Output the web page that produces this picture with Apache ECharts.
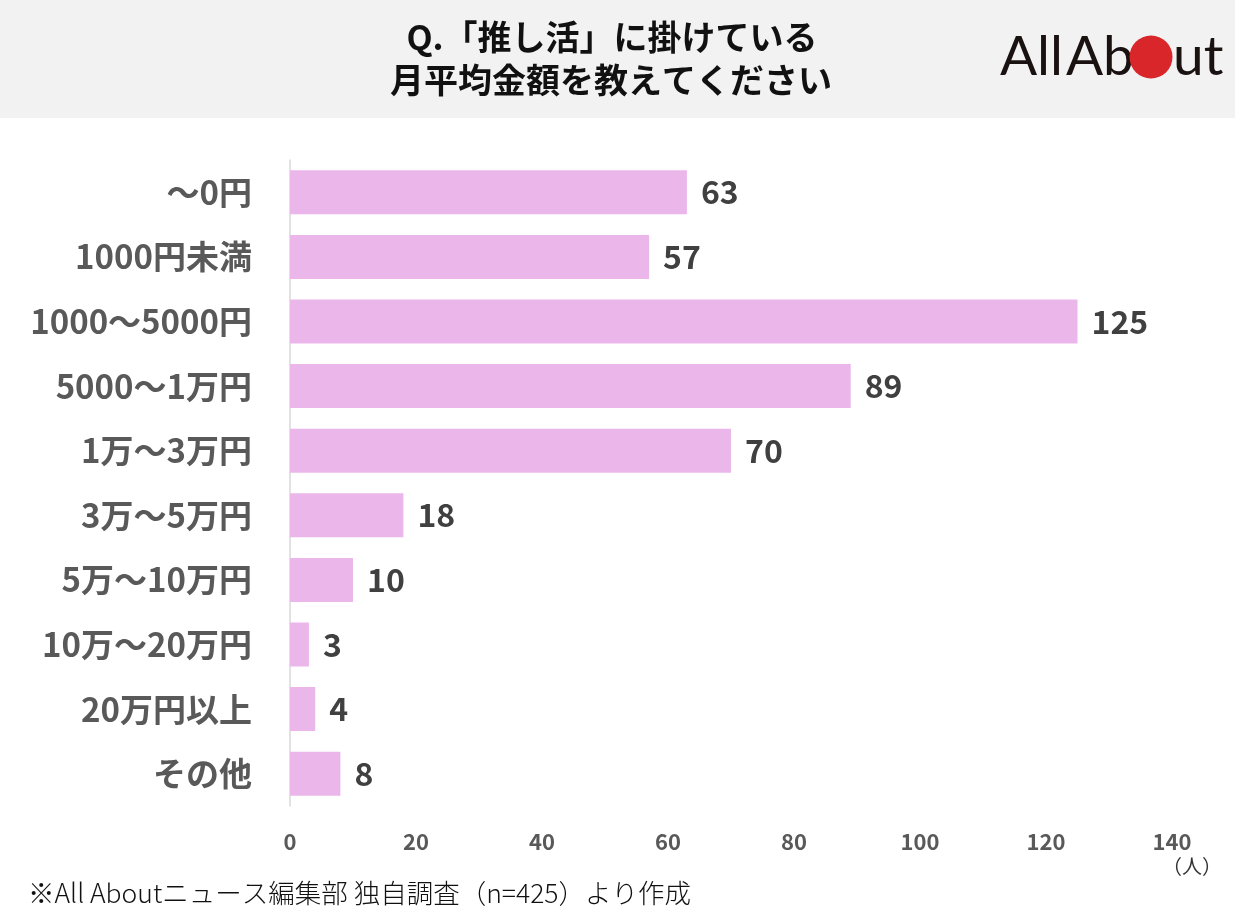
<!DOCTYPE html>
<html><head><meta charset="utf-8">
<script src="https://cdn.jsdelivr.net/npm/echarts@6/dist/echarts.min.js"></script>
<style>html,body{margin:0;padding:0;background:#fff}#c{width:1235px;height:918px}</style>
</head><body><div id="c"></div>
<script>
const categories = ['〜0円','1000円未満','1000〜5000円','5000〜1万円','1万〜3万円','3万〜5万円','5万〜10万円','10万〜20万円','20万円以上','その他'];
const values = [63,57,125,89,70,18,10,3,4,8];
const xTicks = [0,20,40,60,80,100,120,140];
const titleLines = ['Q.「推し活」に掛けている','月平均金額を教えてください'];
const footnote = '※All Aboutニュース編集部 独自調査（n=425）より作成';
const unitLabel = '（人）';

const JP = '"Noto Sans CJK JP","Noto Sans",sans-serif';
const LOGO = 'normal 55px Lato,"DejaVu Sans",sans-serif';
const chart = echarts.init(document.getElementById('c'));
chart.setOption({
  backgroundColor:'#ffffff',
  animation:false,
  grid:{left:290,right:63,top:160,bottom:112,containLabel:false},
  xAxis:{type:'value',min:xTicks[0],max:xTicks[xTicks.length-1],interval:20,
    axisLine:{show:false},axisTick:{show:false},splitLine:{show:false},
    axisLabel:{color:'#595959',fontFamily:JP,fontWeight:'bold',fontSize:22,margin:25}},
  yAxis:{type:'category',data:categories,inverse:true,
    axisLine:{show:true,lineStyle:{color:'#d9d9d9',width:1.5}},axisTick:{show:false},
    axisLabel:{color:'#595959',fontFamily:JP,fontWeight:'bold',fontSize:33,margin:38}},
  series:[{type:'bar',data:values,barWidth:44,
    itemStyle:{color:'#ebb7eb'},
    label:{show:true,position:'right',distance:14,color:'#404040',fontFamily:JP,fontWeight:'bold',fontSize:32}}],
  graphic:[
    {type:'rect',left:0,top:0,z:-1,shape:{width:1235,height:118},style:{fill:'#f2f2f2'}},
    {type:'text',x:612,y:37,style:{text:titleLines[0],font:'bold 34px '+JP,fill:'#111',textAlign:'center',textVerticalAlign:'middle'}},
    {type:'text',x:611,y:80,style:{text:titleLines[1],font:'bold 34px '+JP,fill:'#111',textAlign:'center',textVerticalAlign:'middle'}},
    {type:'text',x:1000,y:57,style:{text:'All',font:LOGO,fill:'#1a1111',textAlign:'left',textVerticalAlign:'middle'}},
    {type:'text',x:1066,y:57,style:{text:'Ab',font:LOGO,fill:'#1a1111',textAlign:'left',textVerticalAlign:'middle'}},
    {type:'circle',shape:{cx:1151,cy:57,r:21.5},style:{fill:'#d9262b'}},
    {type:'text',x:1173,y:57,style:{text:'ut',font:LOGO,fill:'#1a1111',textAlign:'left',textVerticalAlign:'middle'}},
    {type:'text',x:1192,y:866,style:{text:unitLabel,font:'normal 20px '+JP,fill:'#333',textAlign:'center',textVerticalAlign:'middle'}},
    {type:'text',x:28,y:893,style:{text:footnote,font:'300 26.5px '+JP,fill:'#111',textAlign:'left',textVerticalAlign:'middle'}}
  ]
});
</script></body></html>
